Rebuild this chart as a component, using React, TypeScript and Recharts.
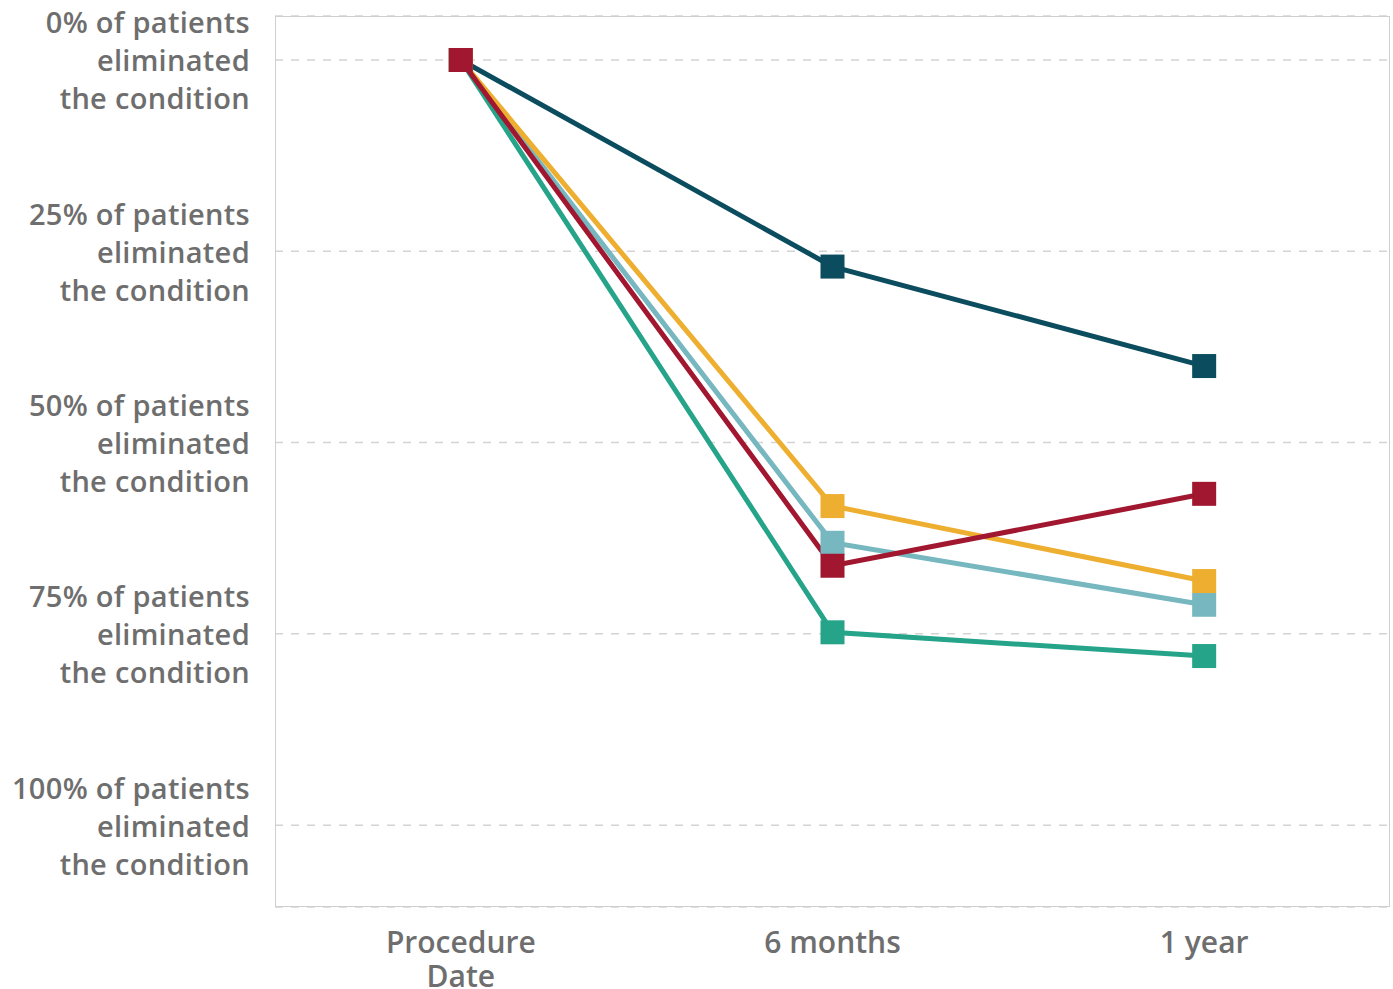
import { CartesianGrid, Line, LineChart, XAxis, YAxis } from "recharts";

const periods = ["Procedure Date", "6 months", "1 year"];
const navySeries = [0, 27, 40];
const greenSeries = [0, 74.8, 77.9];
const lightBlueSeries = [0, 63.1, 71.2];
const yellowSeries = [0, 58.3, 68.1];
const redSeries = [0, 66.1, 56.7];
const yTicks = [0, 25, 50, 75, 100];

const data = periods.map((p, i) => ({
  period: p,
  navy: navySeries[i],
  green: greenSeries[i],
  lightBlue: lightBlueSeries[i],
  yellow: yellowSeries[i],
  red: redSeries[i],
}));

const series = [
  { key: "navy", color: "#0b4d5e" },
  { key: "green", color: "#26a48a" },
  { key: "lightBlue", color: "#76b7c0" },
  { key: "yellow", color: "#eeaf30" },
  { key: "red", color: "#a0172f" },
];

const FONT = "'Open Sans', sans-serif";
const TEXT = "#6e6e6e";

const SquareDot = (props: any) => {
  const { cx, cy, stroke } = props;
  if (cx == null || cy == null) return null;
  return <rect x={cx - 12} y={cy - 12} width={24} height={24} fill={stroke} />;
};

const YTick = ({ x, y, payload }: any) => (
  <text x={x} y={y} textAnchor="end" fill={TEXT} fontFamily={FONT} fontWeight={600} fontSize={29} letterSpacing={0.3}>
    <tspan x={x} dy={-38} dominantBaseline="central">{payload.value}% of patients</tspan>
    <tspan x={x} dy={38} dominantBaseline="central">eliminated</tspan>
    <tspan x={x} dy={38} dominantBaseline="central">the condition</tspan>
  </text>
);

const XTick = ({ x, y, payload }: any) => {
  const words = payload.value === "Procedure Date" ? ["Procedure", "Date"] : [payload.value];
  return (
    <text x={x} y={y} textAnchor="middle" fill={TEXT} fontFamily={FONT} fontWeight={600} fontSize={30}>
      {words.map((w: string, i: number) => (
        <tspan key={w} x={x} dy={i === 0 ? 32 : 34} dominantBaseline="central">{w}</tspan>
      ))}
    </text>
  );
};

export default function App() {
  return (
    <div style={{ position: "absolute", top: 0, left: 0, width: 1393, height: 989, overflow: "hidden" }}>
      <LineChart
        width={1393}
        height={989}
        data={data}
        margin={{ top: 16, right: 3, bottom: 0, left: 0 }}
        style={{ overflow: "visible" }}
      >
        <CartesianGrid
          xAxisId="main"
          yAxisId="main"
          vertical={false}
          stroke="#d4d4d4"
          strokeDasharray="8 8"
          strokeWidth={1.5}
        />
        <XAxis
          dataKey="period"
          xAxisId="main"
          scale="band"
          height={82}
          axisLine={false}
          tickLine={false}
          tickSize={0}
          tick={<XTick />}
          interval={0}
        />
        <YAxis
          yAxisId="main"
          reversed
          domain={[-5.75, 110.7]}
          allowDataOverflow
          ticks={yTicks}
          width={275}
          axisLine={false}
          tickLine={false}
          tickSize={0}
          tickMargin={25}
          tick={<YTick />}
        />
        {series.map((s) => (
          <Line
            key={s.key}
            xAxisId="main"
            yAxisId="main"
            dataKey={s.key}
            stroke={s.color}
            strokeWidth={5}
            dot={<SquareDot />}
            activeDot={false}
            isAnimationActive={false}
          />
        ))}
      </LineChart>
      <div
        style={{
          position: "absolute",
          left: 275,
          top: 16,
          width: 1115,
          height: 891,
          boxSizing: "border-box",
          border: "1.5px solid #cfcfcf",
          pointerEvents: "none",
        }}
      />
    </div>
  );
}
